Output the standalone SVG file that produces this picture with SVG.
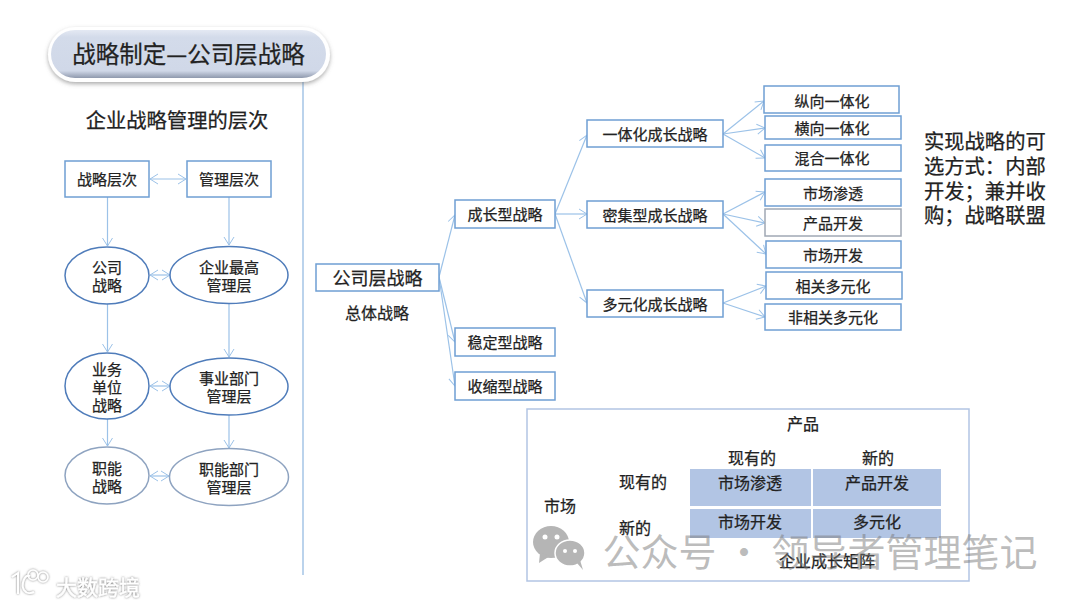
<svg xmlns="http://www.w3.org/2000/svg" width="1080" height="607" viewBox="0 0 1080 607">
<defs>
<marker id="a" viewBox="0 0 10 12" refX="9" refY="6" markerWidth="10" markerHeight="12" markerUnits="userSpaceOnUse" orient="auto-start-reverse"><path d="M1 1L9 6L1 11" fill="none" stroke="#9cc2e8" stroke-width="1"/></marker>
<linearGradient id="pill" x1="0" y1="0" x2="0" y2="1"><stop offset="0" stop-color="#e4e9f3"/><stop offset=".15" stop-color="#d3dbea"/><stop offset=".85" stop-color="#d0d8e8"/><stop offset="1" stop-color="#8f99ad"/></linearGradient>
<filter id="sh" x="-10%" y="-30%" width="120%" height="170%"><feDropShadow dx="0" dy="2" stdDeviation="2" flood-color="#666" flood-opacity=".55"/></filter>
<filter id="wsh" x="-20%" y="-40%" width="140%" height="180%"><feDropShadow dx="0" dy="0" stdDeviation="1.2" flood-color="#666" flood-opacity=".9"/></filter>
</defs>
<style>
text{font-family:"Noto Sans CJK SC","Liberation Sans",sans-serif;fill:#222;stroke:#222;stroke-width:.25;text-anchor:middle;dominant-baseline:central}
.b{fill:#fff;stroke:#6f9fd3;stroke-width:1.5}
.g{fill:#fff;stroke:#a0a8b4;stroke-width:1.5}
.e{fill:#fff;stroke:#4f7cba;stroke-width:1.5}
.e2{fill:#fff;stroke:#8ea3c0;stroke-width:1.5}
.t{font-size:15px}
.m{font-size:16px}
.s{text-anchor:start}
.c{fill:none;stroke:#9cc2e8;stroke-width:1.2;marker-end:url(#a)}
.d{fill:none;stroke:#9cc2e8;stroke-width:1.2;marker-end:url(#a);marker-start:url(#a)}
.cell{fill:#b2c5e4}
</style>
<rect width="1080" height="607" fill="#fff"/>
<g id="connectors">
<path d="M303 78V575" fill="none" stroke="#a5c4e6" stroke-width="1.5"/>
<path class="d" d="M150 179H186"/>
<path class="c" d="M107.500 197V246"/><path class="c" d="M229 197V245"/>
<path class="d" d="M150 275H170"/><path class="d" d="M150 386H170"/><path class="d" d="M150 476H169"/>
<path class="c" d="M107.500 304V352"/><path class="c" d="M229 303V357"/>
<path class="c" d="M107.500 419V446"/><path class="c" d="M229 415V448"/>
<path class="c" d="M439 277L455 215"/><path class="c" d="M439 277L455 342"/><path class="c" d="M439 277L455 386"/>
<path class="c" d="M555 214L587 135"/><path class="c" d="M555 214H587"/><path class="c" d="M555 214L587 303"/>
<path class="c" d="M723 134L764 101"/><path class="c" d="M723 134L765 128"/><path class="c" d="M723 134L765 158"/>
<path class="c" d="M723 214L765 192"/><path class="c" d="M723 214L765 223"/><path class="c" d="M723 214L766 254"/>
<path class="c" d="M723 303L766 286"/><path class="c" d="M723 303L765 317"/>
</g>
<g id="title"><rect x="48" y="27" width="282" height="55" rx="27.500" fill="#fff" filter="url(#sh)"/><rect x="51" y="30" width="275" height="48" rx="24" fill="url(#pill)"/><text x="188.500" y="53" font-size="23.500">战略制定—公司层战略</text></g>
<g id="heading"><text x="177" y="119" font-size="20.300">企业战略管理的层次</text></g>
<g id="n1"><rect class="b" x="65" y="161" width="84" height="36"/><text class="t" x="107" y="178.500">战略层次</text></g>
<g id="n2"><rect class="b" x="187" y="161" width="84" height="36"/><text class="t" x="229" y="178.500">管理层次</text></g>
<g id="n3"><ellipse class="e" cx="107" cy="275.500" rx="42" ry="28.500"/><text class="t" x="107" y="266">公司</text><text class="t" x="107" y="284">战略</text></g>
<g id="n4"><ellipse class="e" cx="229" cy="275" rx="59" ry="28.500"/><text class="t" x="229" y="266">企业最高</text><text class="t" x="229" y="284">管理层</text></g>
<g id="n5"><ellipse class="e" cx="107" cy="386" rx="42" ry="33"/><text class="t" x="107" y="368">业务</text><text class="t" x="107" y="386">单位</text><text class="t" x="107" y="404">战略</text></g>
<g id="n6"><ellipse class="e" cx="229" cy="386.500" rx="59" ry="28.500"/><text class="t" x="229" y="377">事业部门</text><text class="t" x="229" y="395">管理层</text></g>
<g id="n7"><ellipse class="e2" cx="107" cy="475.500" rx="42" ry="28.500"/><text class="t" x="107" y="467">职能</text><text class="t" x="107" y="485">战略</text></g>
<g id="n8"><ellipse class="e2" cx="229" cy="477" rx="59.500" ry="28.500"/><text class="t" x="229" y="468">职能部门</text><text class="t" x="229" y="486">管理层</text></g>
<g id="n9"><rect class="b" x="316" y="264" width="123" height="27"/><text x="377.500" y="277" font-size="18">公司层战略</text></g>
<g id="n9b"><text class="m" x="377" y="312">总体战略</text></g>
<g id="n10"><rect class="b" x="455" y="200" width="100" height="28"/><text class="t" x="505" y="213">成长型战略</text></g>
<g id="n11"><rect class="b" x="455" y="328" width="100" height="28"/><text class="t" x="505" y="341">稳定型战略</text></g>
<g id="n12"><rect class="b" x="455" y="372" width="100" height="28"/><text class="t" x="505" y="385">收缩型战略</text></g>
<g id="n13"><rect class="b" x="587" y="120" width="136" height="27"/><text class="t" x="655" y="133">一体化成长战略</text></g>
<g id="n14"><rect class="b" x="587" y="201" width="136" height="27"/><text class="t" x="655" y="214">密集型成长战略</text></g>
<g id="n15"><rect class="b" x="587" y="290" width="136" height="27"/><text class="t" x="655" y="303">多元化成长战略</text></g>
<g id="n16"><rect class="b" x="764" y="86" width="135" height="27"/><text class="t" x="832" y="100">纵向一体化</text></g>
<g id="n17"><rect class="b" x="765" y="116" width="136" height="23"/><text class="t" x="832" y="127">横向一体化</text></g>
<g id="n18"><rect class="b" x="765" y="145" width="136" height="26"/><text class="t" x="832" y="157">混合一体化</text></g>
<g id="n19"><rect class="b" x="765" y="179" width="136" height="27"/><text class="t" x="833" y="192">市场渗透</text></g>
<g id="n20"><rect class="g" x="765" y="209" width="136" height="27"/><text class="t" x="833" y="222">产品开发</text></g>
<g id="n21"><rect class="b" x="766" y="241" width="135" height="27"/><text class="t" x="833" y="254">市场开发</text></g>
<g id="n22"><rect class="b" x="766" y="272" width="136" height="27"/><text class="t" x="833" y="285">相关多元化</text></g>
<g id="n23"><rect class="b" x="765" y="304" width="136" height="26"/><text class="t" x="833" y="316.500">非相关多元化</text></g>
<g id="note" font-size="20.300"><text class="s" x="924" y="140">实现战略的可</text><text class="s" x="924" y="165">选方式：内部</text><text class="s" x="924" y="190">开发；兼并收</text><text class="s" x="924" y="214">购；战略联盟</text></g>
<g id="matrix">
<rect x="527" y="409" width="442" height="172" fill="#fff" stroke="#b2c5e4" stroke-width="1.500"/>
<rect class="cell" x="690" y="469" width="121" height="37"/><rect class="cell" x="813" y="469" width="128" height="37"/>
<rect class="cell" x="690" y="509" width="121" height="29"/><rect class="cell" x="813" y="509" width="128" height="29"/>
<text class="m" x="803" y="423">产品</text><text class="m" x="752" y="457">现有的</text><text class="m" x="878" y="457">新的</text>
<text class="m" x="643" y="481">现有的</text><text class="m" x="635" y="527">新的</text><text class="m" x="560" y="505">市场</text>
<text class="m" x="750" y="482">市场渗透</text><text class="m" x="877" y="482">产品开发</text><text class="m" x="750" y="521">市场开发</text><text class="m" x="877" y="521">多元化</text>
<text class="m" x="827" y="560">企业成长矩阵</text>
</g>
<g id="watermark">
<ellipse cx="551" cy="542" rx="18" ry="16" fill="#b5b5b5"/><path d="M540 553L539 563L550 556Z" fill="#b5b5b5"/>
<ellipse cx="570" cy="553" rx="15" ry="13" fill="#b5b5b5" stroke="#fff" stroke-width="1.500"/><path d="M577 563L583 570L580 560Z" fill="#b5b5b5"/>
<circle cx="545" cy="537" r="2.500" fill="#fff"/><circle cx="557" cy="537" r="2.500" fill="#fff"/><circle cx="565" cy="551" r="2" fill="#fff"/><circle cx="575" cy="551" r="2" fill="#fff"/>
<text x="820" y="549" font-size="38" style="fill:#7a7a7a;fill-opacity:.5;stroke:none">公众号 · 领导者管理笔记</text>
<g filter="url(#wsh)"><text x="98" y="586" font-size="21" style="fill:#fff;stroke:#fff;stroke-width:.4">大数跨境</text>
<path d="M12 577L18 573V594M30 576C24 574 21 585 24 590C26 593 30 594 34 592" fill="none" stroke="#fff" stroke-width="2"/><circle cx="33" cy="575" r="5" fill="none" stroke="#fff" stroke-width="1.500"/><circle cx="43" cy="577" r="5" fill="none" stroke="#fff" stroke-width="1.500"/></g>
</g>
</svg>
